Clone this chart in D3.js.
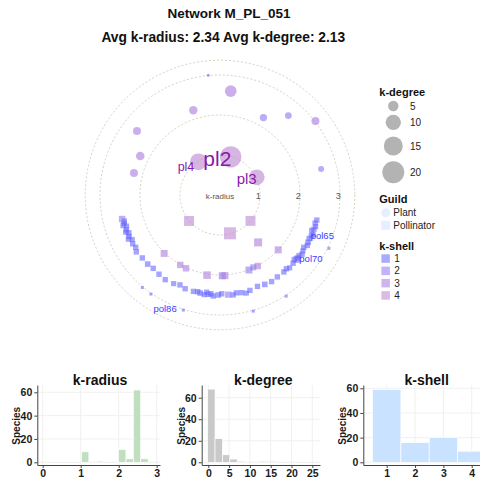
<!DOCTYPE html>
<html>
<head>
<meta charset="utf-8">
<script src="https://cdn.jsdelivr.net/npm/d3@7"></script>
<style>
body { margin: 0; background: #fff; }
text { font-family: "Liberation Sans", Arial, sans-serif; }
</style>
</head>
<body>
<svg id="chart" width="480" height="484"></svg>
<script>
// ---------- data ----------
// plants (circles): angle in degrees clockwise from top, k-radius, k-degree, k-shell
const plantTheta  = [15.6, 326.9, 64.3, 5.9, 342.5, 29.3, 40.7, 52.2, 307.6, 296.1, 284.3, 75.6, 354.4];
const plantRadius = [0.99, 0.99, 1.02, 2.61, 2.22, 2.22, 2.62, 3.02, 2.62, 2.22, 2.22, 2.61, 3.01];
const plantDegree = [19, 12, 10.5, 6, 3.5, 2.8, 2.5, 3.2, 3.2, 3.6, 3.2, 2.1, 1];
const plantShell  = [4, 4, 4, 3, 3, 2, 2, 3, 3, 3, 3, 2, 1];
const plantName   = ["pl2", "pl4", "pl3", "", "", "", "", "", "", "", "", "", ""];

// pollinators (squares): core, ring at 2, band at 2.5, outer ring at 3
const pollTheta = [
  230, 130.3, 165.4, 141.2, 133.3, 223.7, 209.6, 204.9, 189.2, 178.4, 176.5, 158.9, 155.3, 152, 129.9,
  104.5, 106.5, 108.3, 110, 111.1, 113, 114.1, 116, 118.2, 120,
  122, 124, 125.8, 127.5, 129.1, 131, 133, 136.3, 138, 140.3,
  145, 149.2, 153.4, 157.7, 162.6, 165, 167.6, 170.5, 172.5, 175.3,
  179, 181, 183.8, 185.2, 186.7, 187.8, 189, 191.5, 193, 195.4,
  200.4, 204, 207.6, 212.9, 217.6, 222.3, 226.3, 231, 235.8, 238.2,
  240.8, 243.1, 244.3, 245.5, 247.5, 248.5, 249.6, 251.6, 252.5, 253.6,
  254.8, 256.2,
  116.1, 146.8, 164, 197.7, 214.9, 220
];
const pollRadius = [
  1.01, 1.0, 0.99, 1.52, 2.0, 2.02, 2.01, 2.02, 2.03, 2.02, 2.02, 2.01, 1.99, 2.01, 2.51,
  2.5, 2.48, 2.52, 2.5, 2.46, 2.53, 2.5, 2.48, 2.5, 2.52,
  2.47, 2.5, 2.53, 2.49, 2.5, 2.46, 2.5, 2.52, 2.48, 2.5,
  2.5, 2.52, 2.5, 2.47, 2.5, 2.54, 2.5, 2.48, 2.52, 2.5,
  2.47, 2.5, 2.53, 2.48, 2.5, 2.45, 2.52, 2.5, 2.48, 2.5,
  2.5, 2.46, 2.5, 2.52, 2.5, 2.48, 2.5, 2.5, 2.53, 2.48,
  2.5, 2.46, 2.54, 2.5, 2.47, 2.53, 2.5, 2.46, 2.54, 2.5,
  2.48, 2.52,
  3.03, 3.02, 3.02, 3.02, 3.02, 3.02
];
const pollDegree = [
  4.6, 4.6, 6.4, 3.2, 2.6, 2.6, 2.3, 2.3, 2.9, 2.6, 2.6, 2.6, 2.1, 2.3, 2.6,
  1.8, 1.8, 1.7, 1.8, 1.8, 1.7, 1.8, 1.8, 1.9, 1.8,
  1.8, 1.7, 1.8, 1.8, 1.9, 1.8, 1.8, 1.7, 1.8, 1.8,
  1.8, 1.8, 1.9, 1.8, 1.8, 1.7, 1.8, 1.8, 1.8, 2.2,
  1.8, 1.9, 1.8, 1.8, 1.8, 1.7, 1.8, 1.9, 1.8, 1.8,
  1.8, 1.8, 1.7, 1.8, 1.8, 1.8, 1.9, 1.8, 1.8, 1.8,
  1.8, 1.7, 1.8, 1.8, 1.9, 1.8, 1.8, 1.7, 1.8, 1.8,
  1.8, 2.3,
  1, 1, 1, 1, 1, 1
];
const pollShell = [
  4, 4, 4, 3, 3, 3, 3, 3, 3, 2, 3, 2, 2, 3, 2,
  1, 1, 1, 1, 1, 1, 1, 1, 1, 1,
  1, 1, 1, 1, 1, 1, 1, 1, 1, 1,
  1, 1, 1, 1, 1, 1, 1, 1, 1, 2,
  1, 1, 1, 1, 1, 1, 1, 1, 1, 1,
  1, 1, 1, 1, 1, 1, 1, 1, 1, 1,
  1, 1, 1, 1, 1, 1, 1, 1, 1, 1,
  1, 2,
  1, 1, 1, 1, 1, 1
];
const pollLabelIndex = [14, 21, 80];
const pollLabelName  = ["pol70", "pol65", "pol86"];

const radialTicks = [1, 2, 3];
const outerK = 3.37;
const shells = [1, 2, 3, 4];
const degreeLegend = [5, 10, 15, 20];
const guilds = ["Plant", "Pollinator"];

// histograms
const radiusBinStart = [1.02, 1.41, 1.995, 2.19, 2.385, 2.58];
const radiusBinCount = [9, 1, 11, 3, 62, 3];
const radiusBinWidth = 0.195;
const degreeBinStart = [-0.16, 1.62, 3.4, 5.18, 6.96, 12.3, 14.08];
const degreeBinCount = [68, 22, 7, 3, 1, 1, 1];
const degreeBinWidth = 1.78;
const shellBinStart = [0.5, 1.5, 2.5, 3.5];
const shellBinCount = [59, 16, 20, 9];
const shellBinWidth = 1;

// ---------- layout ----------
const svg = d3.select("#chart");
const cx = 220, cy = 195;

const r = d3.scaleLinear().domain([0, 1]).range([0, 40]);
const ang = d3.scaleLinear().domain([0, 360]).range([0, 2 * Math.PI]);
const area = d3.scaleLinear().domain([1, 20]).range([9, 484]);
const side = d => Math.sqrt(area(d));
const shellColor = d3.scaleOrdinal().domain(shells)
  .range(["#6464ff", "#8c75f0", "#aa78dc", "#ba84d1"]);

const labelStyle = {
  pl2:   {size: 21,   dx: -13.3, dy: 8.9, anchor: "middle", color: "#8719aa"},
  pl4:   {size: 12.5, dx: -12.4, dy: 8.7, anchor: "middle", color: "#8719aa"},
  pl3:   {size: 15,   dx: -10.1, dy: 7.1, anchor: "middle", color: "#8719aa"},
  pol65: {size: 9.5,  dx: -0.6,  dy: 3.3, anchor: "start",  color: "#3b3bff"},
  pol70: {size: 9.5,  dx: 2.3,   dy: 3,   anchor: "start",  color: "#3b3bff"},
  pol86: {size: 9.5,  dx: -6.6,  dy: 1.6, anchor: "end",    color: "#3b3bff"}
};

const plants = plantTheta.map((t, i) => ({theta: t, radius: plantRadius[i], degree: plantDegree[i], shell: plantShell[i], name: plantName[i]}));
const polls = pollTheta.map((t, i) => {
  let k = pollLabelIndex.indexOf(i);
  return {theta: t, radius: pollRadius[i], degree: pollDegree[i], shell: pollShell[i], name: k >= 0 ? pollLabelName[k] : ""};
});
const pos = d => d3.pointRadial(ang(d.theta), r(d.radius));

// ---------- titles ----------
svg.append("text").attr("x", 229).attr("y", 18).attr("text-anchor", "middle")
  .attr("font-size", 13.5).attr("font-weight", "bold").attr("fill", "#111")
  .text("Network M_PL_051");
svg.append("text").attr("x", 223.3).attr("y", 41.5).attr("text-anchor", "middle")
  .attr("font-size", 13.8).attr("font-weight", "bold").attr("fill", "#111")
  .text("Avg k-radius: 2.34 Avg k-degree: 2.13");

// ---------- polar plot ----------
const polar = svg.append("g").attr("transform", `translate(${cx},${cy})`);

polar.selectAll("circle.grid").data([...radialTicks, outerK]).join("circle")
  .attr("class", "grid")
  .attr("r", d => r(d))
  .attr("fill", "none")
  .attr("stroke", "#c6c6b0")
  .attr("stroke-width", 0.8)
  .attr("stroke-dasharray", "2,2");

polar.selectAll("circle.plant").data(plants).join("circle")
  .attr("class", "plant")
  .attr("cx", d => pos(d)[0])
  .attr("cy", d => pos(d)[1])
  .attr("r", d => side(d.degree) / 2)
  .attr("fill", d => shellColor(d.shell))
  .attr("fill-opacity", 0.6);

polar.selectAll("rect.poll").data(polls).join("rect")
  .attr("class", "poll")
  .attr("x", d => pos(d)[0] - side(d.degree) / 2)
  .attr("y", d => pos(d)[1] - side(d.degree) / 2)
  .attr("width", d => side(d.degree))
  .attr("height", d => side(d.degree))
  .attr("fill", d => shellColor(d.shell))
  .attr("fill-opacity", 0.58);

// radial axis labels
polar.append("text").attr("x", 0).attr("y", 3.5).attr("text-anchor", "middle")
  .attr("font-size", 8).attr("fill", "#555").text("k-radius");
polar.selectAll("text.rtick").data(radialTicks).join("text")
  .attr("class", "rtick")
  .attr("x", d => r(d) - 1.7)
  .attr("y", 3.8)
  .attr("text-anchor", "middle")
  .attr("font-size", 9)
  .attr("fill", "#555")
  .text(d => d);

// node labels
const labelled = plants.concat(polls).filter(d => d.name);
polar.selectAll("text.node").data(labelled).join("text")
  .attr("class", "node")
  .attr("x", d => pos(d)[0] + labelStyle[d.name].dx)
  .attr("y", d => pos(d)[1] + labelStyle[d.name].dy)
  .attr("text-anchor", d => labelStyle[d.name].anchor)
  .attr("font-size", d => labelStyle[d.name].size)
  .attr("fill", d => labelStyle[d.name].color)
  .text(d => d.name);

// ---------- legend ----------
const leg = svg.append("g");
const legTitle = (t, y) => leg.append("text").attr("x", 379.3).attr("y", y)
  .attr("font-size", 11).attr("font-weight", "bold").attr("fill", "#111").text(t);

legTitle("k-degree", 96);
const degY = [106, 122.3, 146, 172.3];
leg.selectAll("circle.deg").data(degreeLegend).join("circle")
  .attr("class", "deg")
  .attr("cx", 393.3).attr("cy", (d, i) => degY[i])
  .attr("r", d => side(d) / 2)
  .attr("fill", "#b3b3b3");
leg.selectAll("text.deg").data(degreeLegend).join("text")
  .attr("class", "deg")
  .attr("x", 410).attr("y", (d, i) => degY[i] + 3.5)
  .attr("font-size", 10).attr("fill", "#222").text(d => d);

legTitle("Guild", 203);
leg.append("circle").attr("cx", 385.7).attr("cy", 212.7).attr("r", 4.5).attr("fill", "#e6efff");
leg.append("rect").attr("x", 381.2).attr("y", 220.8).attr("width", 9).attr("height", 9).attr("fill", "#e6efff");
leg.selectAll("text.guild").data(guilds).join("text")
  .attr("class", "guild")
  .attr("x", 393.3).attr("y", (d, i) => 216.3 + i * 12.6)
  .attr("font-size", 10).attr("fill", "#222").text(d => d);

legTitle("k-shell", 249.5);
leg.selectAll("rect.shell").data(shells).join("rect")
  .attr("class", "shell")
  .attr("x", 381.4).attr("y", (d, i) => 254.3 + i * 12.3)
  .attr("width", 8.5).attr("height", 8.5)
  .attr("fill", d => shellColor(d)).attr("fill-opacity", 0.55);
leg.selectAll("text.shell").data(shells).join("text")
  .attr("class", "shell")
  .attr("x", 394.3).attr("y", (d, i) => 262 + i * 12.3)
  .attr("font-size", 10).attr("fill", "#222").text(d => d);

// ---------- histograms ----------
function drawHist(cfg) {
  const g = svg.append("g");
  const x = d3.scaleLinear().domain(cfg.tickDomain).range(cfg.tickRange);
  const xa = x.copy().domain([x.invert(cfg.left), x.invert(cfg.right)]).range([cfg.left, cfg.right]);
  const y = d3.scaleLinear().domain([0, 60]).range([462.3, cfg.y60]);
  const ya = y.copy().domain([y.invert(465), y.invert(385)]).range([465, 385]);

  g.selectAll("line.vg").data(cfg.xTicks).join("line")
    .attr("x1", d => x(d)).attr("x2", d => x(d)).attr("y1", 385).attr("y2", 465)
    .attr("stroke", "#f0f0f0");
  g.selectAll("line.hg").data([0, 20, 40, 60]).join("line")
    .attr("x1", cfg.left).attr("x2", cfg.right).attr("y1", d => y(d)).attr("y2", d => y(d))
    .attr("stroke", "#f0f0f0");

  const bins = cfg.starts.map((s, i) => ({s: s, c: cfg.counts[i]}));
  g.selectAll("rect.bar").data(bins).join("rect")
    .attr("x", d => x(d.s))
    .attr("width", d => x(d.s + cfg.width) - x(d.s))
    .attr("y", d => y(d.c))
    .attr("height", d => y(0) - y(d.c))
    .attr("fill", cfg.color)
    .attr("stroke", "#fff")
    .attr("stroke-width", 0.7);

  const ax = g.append("g").attr("transform", "translate(0,465)")
    .call(d3.axisBottom(xa).tickValues(cfg.xTicks).tickSize(3).tickSizeOuter(0).tickPadding(2).tickFormat(d3.format("d")));
  const ay = g.append("g").attr("transform", `translate(${cfg.left},0)`)
    .call(d3.axisLeft(ya).tickValues([0, 20, 40, 60]).tickSize(3).tickSizeOuter(0).tickPadding(2));
  [ax, ay].forEach(a => {
    a.attr("font-family", "Liberation Sans, Arial, sans-serif").attr("font-size", 10.5).attr("font-weight", "bold");
    a.selectAll("path, line").attr("stroke", "#444");
    a.selectAll("text").attr("fill", "#1a1a1a");
  });

  g.append("text")
    .attr("transform", `translate(${cfg.left - 17},425.8) rotate(-90)`)
    .attr("text-anchor", "middle").attr("font-size", 10).attr("font-weight", "bold").attr("fill", "#1a1a1a")
    .text("Species");
  g.append("text").attr("x", cfg.titleX).attr("y", 384.5).attr("text-anchor", "middle")
    .attr("font-size", 14).attr("font-weight", "bold").attr("fill", "#111").text(cfg.title);
}

drawHist({title: "k-radius", titleX: 100, left: 37.3, right: 160, tickDomain: [0, 3], tickRange: [42.7, 156.7],
  xTicks: [0, 1, 2, 3], y60: 392.3, starts: radiusBinStart, counts: radiusBinCount, width: radiusBinWidth, color: "#c0dfbf"});
drawHist({title: "k-degree", titleX: 263.3, left: 201.7, right: 320, tickDomain: [0, 25], tickRange: [208.3, 312.3],
  xTicks: [0, 5, 10, 15, 20, 25], y60: 397.7, starts: degreeBinStart, counts: degreeBinCount, width: degreeBinWidth, color: "#c9c9c9"});
drawHist({title: "k-shell", titleX: 426.7, left: 363.3, right: 490, tickDomain: [1, 4], tickRange: [386.7, 471.7],
  xTicks: [1, 2, 3, 4], y60: 388.3, starts: shellBinStart, counts: shellBinCount, width: shellBinWidth, color: "#c8e2ff"});
</script>
</body>
</html>
